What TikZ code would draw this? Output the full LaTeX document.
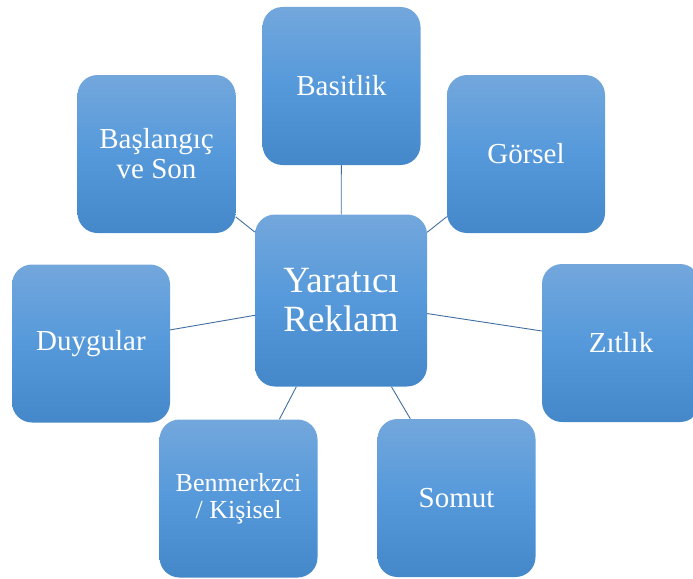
\documentclass[tikz,border=0pt]{standalone}
\usepackage{fontspec}
\setmainfont{Liberation Serif}
\definecolor{boxtop}{RGB}{115,167,220}
\definecolor{boxmid}{RGB}{85,153,219}
\definecolor{boxbot}{RGB}{68,136,202}
\definecolor{linkc}{RGB}{65,110,160}
\begin{document}
\begin{tikzpicture}[x=1pt,y=-1pt,
  sbox/.style={rectangle, rounded corners=20pt, minimum width=158pt, minimum height=158pt,
    top color=boxtop, bottom color=boxbot, middle color=boxmid, draw=none,
    text=white, align=center, inner sep=0pt, font=\fontsize{29}{30}\selectfont},
  cbox/.style={sbox, minimum width=172pt, minimum height=172pt, font=\fontsize{37}{39}\selectfont},
  link/.style={draw=linkc, line width=0.9pt}]
\useasboundingbox (0,0) rectangle (693,578);
\node[cbox] (c) at (341,300.5) {Yaratıcı\\Reklam};
\node[sbox] (bas) at (341.5,86) {Basitlik};
\node[sbox] (gor) at (526,154) {Görsel};
\node[sbox] (zit) at (621,343) {Zıtlık};
\node[sbox] (som) at (456.5,498) {Somut};
\node[sbox, font=\fontsize{26}{27}\selectfont] (ben) at (238.5,498.5) {Benmerkzci\\/ Kişisel};
\node[sbox] (duy) at (91,343.5) {Duygular};
\node[sbox] (bsl) at (156.5,154) {Başlangıç\\ve Son};
\foreach \n in {bas,gor,zit,som,ben,duy,bsl}{
  \draw[link] (c) -- (\n);
}
\end{tikzpicture}
\end{document}
